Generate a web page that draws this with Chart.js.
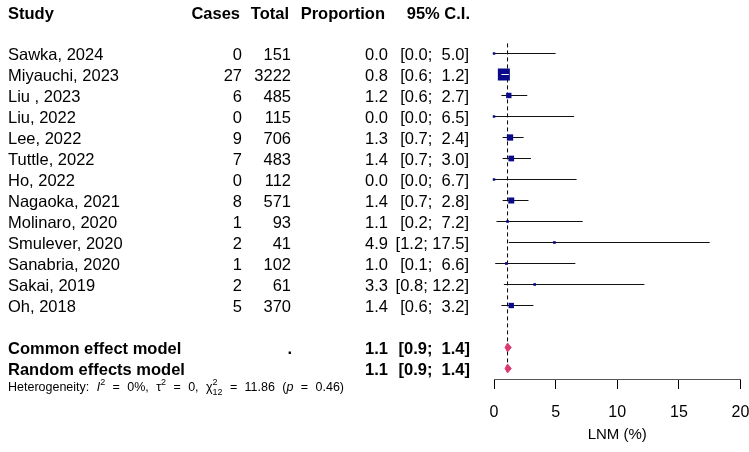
<!DOCTYPE html>
<html>
<head>
<meta charset="utf-8">
<script src="https://cdn.jsdelivr.net/npm/chart.js@4.4.1/dist/chart.umd.min.js"></script>
<style>
  html, body { margin: 0; padding: 0; background: #fff; }
</style>
</head>
<body>
<canvas id="forest" width="749" height="452"></canvas>
<script>
const studies = ['Sawka, 2024', 'Miyauchi, 2023', 'Liu , 2023', 'Liu, 2022', 'Lee, 2022', 'Tuttle, 2022',
  'Ho, 2022', 'Nagaoka, 2021', 'Molinaro, 2020', 'Smulever, 2020', 'Sanabria, 2020', 'Sakai, 2019', 'Oh, 2018'];
const cases = [0, 27, 6, 0, 9, 7, 0, 8, 1, 2, 1, 2, 5];
const totals = [151, 3222, 485, 115, 706, 483, 112, 571, 93, 41, 102, 61, 370];
const props = [0.0, 0.8, 1.2, 0.0, 1.3, 1.4, 0.0, 1.4, 1.1, 4.9, 1.0, 3.3, 1.4];
const lowers = [0.0, 0.6, 0.6, 0.0, 0.7, 0.7, 0.0, 0.7, 0.2, 1.2, 0.1, 0.8, 0.6];
const uppers = [5.0, 1.2, 2.7, 6.5, 2.4, 3.0, 6.7, 2.8, 7.2, 17.5, 6.6, 12.2, 3.2];
// estimated study weights (%), used for box size
const weights = [0.3, 40, 8, 0.3, 11, 9, 0.3, 10, 2, 2, 2, 2, 8];

const models = ['Common effect model', 'Random effects model'];
const modelEst = [1.1, 1.1];
const modelLo = [0.9, 0.9];
const modelHi = [1.4, 1.4];
const xTicks = [0, 5, 10, 15, 20];
const heterogeneity = { i2: '0%', tau2: '0', df: 12, q: '11.86', p: '0.46' };

const FONT = '"Liberation Sans", Arial, Helvetica, sans-serif';
const BLUE = '#0b0b8a';
const PINK = '#dc3a6e';
const modelRow = [14, 15];

function boxSide(w) {
  return Math.max(2.5, 1.9 * Math.sqrt(w));
}

const fmt = v => v.toFixed(1);
const ciText = (lo, hi) => '[' + fmt(lo) + ';' + (hi < 10 ? '  ' : ' ') + fmt(hi) + ']';

const datasets = [];

// CI lines
studies.forEach((s, i) => {
  datasets.push({
    type: 'scatter', showLine: true, order: 5, clip: false,
    data: [{ x: lowers[i], y: i }, { x: uppers[i], y: i }],
    borderColor: '#111', borderWidth: 1, pointRadius: 0
  });
  // white CI drawn over the box when the box covers it
  datasets.push({
    type: 'scatter', showLine: true, order: 1, clip: false,
    data: [{ x: lowers[i], y: i }, { x: uppers[i], y: i }],
    borderWidth: 1, pointRadius: 0,
    borderColor: ctx => {
      const xs = ctx.chart.scales.x;
      const w = xs.getPixelForValue(uppers[i]) - xs.getPixelForValue(lowers[i]);
      return w < boxSide(weights[i]) - 2 ? '#fff' : 'rgba(0,0,0,0)';
    }
  });
});

// study boxes
datasets.push({
  type: 'scatter', order: 2, clip: false,
  data: props.map((p, i) => ({ x: p, y: i })),
  pointStyle: 'rect',
  pointRadius: weights.map(w => boxSide(w) / Math.SQRT2),
  pointBorderWidth: 0,
  backgroundColor: BLUE, borderColor: BLUE
});

// reference dashed line at common estimate
datasets.push({
  type: 'scatter', showLine: true, order: 6, clip: false,
  data: [{ x: modelEst[0], y: -0.48 }, { x: modelEst[0], y: 15.2 }],
  borderColor: '#000', borderWidth: 1, borderDash: [4, 3], pointRadius: 0
});

// summary diamonds
models.forEach((m, k) => {
  const r = modelRow[k];
  datasets.push({
    type: 'scatter', showLine: true, order: 0, clip: false,
    data: [
      { x: modelLo[k], y: r }, { x: modelEst[k], y: r - 0.21 },
      { x: modelHi[k], y: r }, { x: modelEst[k], y: r + 0.21 }, { x: modelLo[k], y: r }
    ],
    borderColor: PINK, backgroundColor: PINK, borderWidth: 1, fill: 'shape',
    pointRadius: 0, tension: 0
  });
});

const textPlugin = {
  id: 'forestText',
  afterDraw(chart) {
    const ctx = chart.ctx;
    const ys = chart.scales.y;
    const rowY = r => ys.getPixelForValue(r) + 1.5;
    ctx.save();
    ctx.fillStyle = '#000';
    ctx.textBaseline = 'middle';

    // header
    ctx.font = 'bold 16.5px ' + FONT;
    const hy = 14;
    ctx.textAlign = 'left';  ctx.fillText('Study', 8, hy);
    ctx.textAlign = 'right';
    ctx.fillText('Cases', 240, hy);
    ctx.fillText('Total', 289, hy);
    ctx.fillText('Proportion', 385, hy);
    ctx.fillText('95% C.I.', 470, hy);

    // studies
    ctx.font = '16.5px ' + FONT;
    studies.forEach((s, i) => {
      const y = rowY(i);
      ctx.textAlign = 'left';  ctx.fillText(s, 8, y);
      ctx.textAlign = 'right';
      ctx.fillText(String(cases[i]), 242, y);
      ctx.fillText(String(totals[i]), 291, y);
      ctx.fillText(fmt(props[i]), 388, y);
      ctx.fillText(ciText(lowers[i], uppers[i]), 469, y);
    });

    // models
    ctx.font = 'bold 16.5px ' + FONT;
    models.forEach((m, k) => {
      const y = rowY(modelRow[k]);
      ctx.textAlign = 'left';  ctx.fillText(m, 8, y);
      ctx.textAlign = 'right';
      if (k === 0) ctx.fillText('.', 292, y);
      ctx.fillText(fmt(modelEst[k]), 388, y);
      ctx.fillText(ciText(modelLo[k], modelHi[k]), 470, y);
    });

    // heterogeneity line, plotmath-like spacing stretched to the reference width
    const base = ys.getPixelForValue(15.8) + 2;
    const reg = '12.5px ' + FONT, ital = 'italic 12.5px ' + FONT, small = '9px ' + FONT;
    const runs = [
      { t: 'Heterogeneity:', f: reg, gap: 1 },
      { t: 'I', f: ital }, { t: '2', f: small, dy: -5, gap: 1 },
      { t: '=', f: reg, gap: 1 },
      { t: heterogeneity.i2 + ',', f: reg, gap: 1 },
      { t: '\u03c4', f: reg }, { t: '2', f: small, dy: -5, gap: 1 },
      { t: '=', f: reg, gap: 1 },
      { t: heterogeneity.tau2 + ',', f: reg, gap: 1 },
      { t: '\u03c7', f: reg }, { t: '2', f: small, dy: -5, stack: String(heterogeneity.df), gap: 1 },
      { t: '=', f: reg, gap: 1 },
      { t: heterogeneity.q, f: reg, gap: 1 },
      { t: '(', f: reg }, { t: 'p', f: ital, gap: 1 },
      { t: '=', f: reg, gap: 1 },
      { t: heterogeneity.p + ')', f: reg }
    ];
    let natural = 0, nGaps = 0;
    runs.forEach(r => {
      ctx.font = r.f;
      let w = ctx.measureText(r.t).width;
      if (r.stack) w = Math.max(w, ctx.measureText(r.stack).width);
      r.w = w;
      natural += w;
      if (r.gap) nGaps++;
    });
    const gap = (344 - 8 - natural) / nGaps;
    let x = 8;
    ctx.textAlign = 'left';
    runs.forEach(r => {
      ctx.font = r.f;
      ctx.fillText(r.t, x, base + (r.dy || 0));
      if (r.stack) ctx.fillText(r.stack, x, base + 5);
      x += r.w + (r.gap ? gap : 0);
    });
    ctx.restore();
  }
};

new Chart(document.getElementById('forest'), {
  type: 'scatter',
  data: { datasets },
  options: {
    responsive: false,
    animation: false,
    events: [],
    layout: { padding: { left: 494, right: 8, top: 32.5, bottom: 8.5 } },
    plugins: { legend: { display: false }, tooltip: { enabled: false } },
    scales: {
      x: {
        type: 'linear', min: 0, max: 20,
        afterBuildTicks: axis => { axis.ticks = xTicks.map(v => ({ value: v })); },
        afterFit: axis => { axis.height = 64.5; axis.paddingLeft = 0; axis.paddingRight = 0; },
        grid: { display: true, drawOnChartArea: false, drawTicks: true, tickLength: 10, color: '#000', lineWidth: 1 },
        border: { display: true, color: '#555', width: 1 },
        ticks: { color: '#000', font: { family: FONT, size: 16 }, padding: 14, maxRotation: 0 },
        title: { display: true, text: 'LNM (%)', color: '#000', font: { family: FONT, size: 15 }, padding: { top: 3, bottom: 0 } }
      },
      y: { type: 'linear', reverse: true, min: -1, max: 15.5, display: false }
    }
  },
  plugins: [textPlugin]
});
</script>
</body>
</html>
